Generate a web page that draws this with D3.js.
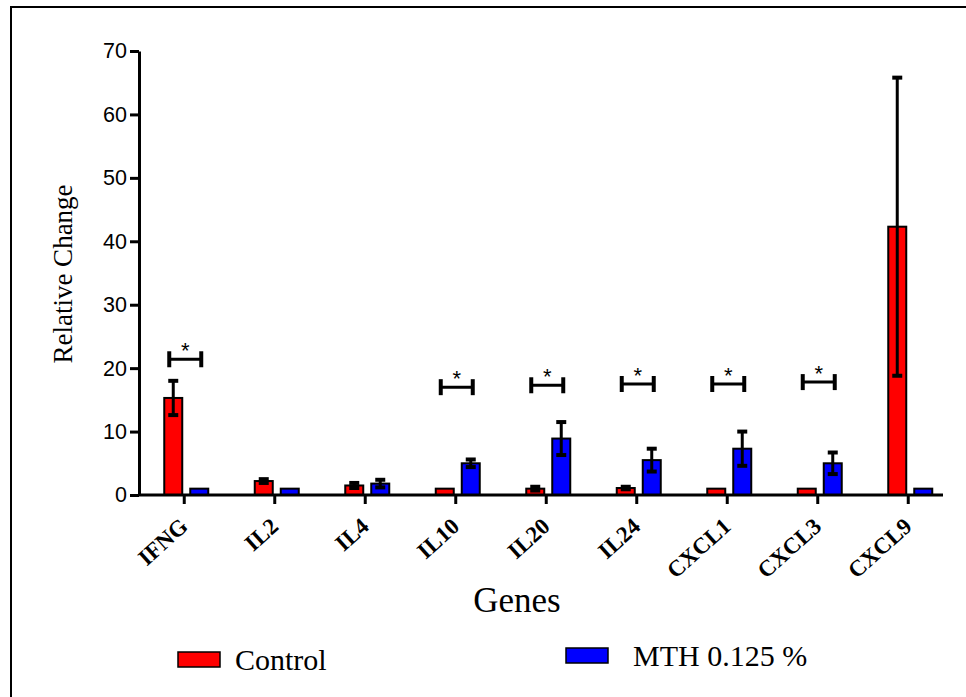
<!DOCTYPE html>
<html>
<head>
<meta charset="utf-8">
<script src="https://cdn.jsdelivr.net/npm/d3@7"></script>
<style>
  body { margin: 0; background: #fff; }
  svg { display: block; }
</style>
</head>
<body>
<svg id="chart"></svg>
<script>
// Data
const genes = ["IFNG", "IL2", "IL4", "IL10", "IL20", "IL24", "CXCL1", "CXCL3", "CXCL9"];
const controlMean = [15.3, 2.2, 1.5, 1.0, 1.0, 1.1, 1.0, 1.0, 42.3];
const controlErr  = [2.7, 0.3, 0.4, 0, 0.3, 0.2, 0, 0, 23.5];
const mthMean = [1.0, 1.0, 1.8, 5.0, 8.9, 5.5, 7.3, 5.0, 1.0];
const mthErr  = [0, 0, 0.6, 0.6, 2.6, 1.8, 2.7, 1.7, 0];
// significance brackets: gene and height of bracket
const sigGenes  = ["IFNG", "IL10", "IL20", "IL24", "CXCL1", "CXCL3"];
const sigLevels = [21.4, 17.0, 17.3, 17.5, 17.5, 17.8];
const yTicks = [0, 10, 20, 30, 40, 50, 60, 70];
const seriesNames = ["Control", "MTH 0.125 %"];
const seriesColors = ["#ff0000", "#0000ff"];

const W = 966, H = 697;
const svg = d3.select("#chart").attr("width", W).attr("height", H);
const serif = "'Liberation Serif', 'Times New Roman', serif";
const sans = "Arial, 'Liberation Sans', sans-serif";

// outer frame
svg.append("rect")
    .attr("x", 11).attr("y", 7)
    .attr("width", W + 10).attr("height", H + 10)
    .attr("fill", "none").attr("stroke", "#000").attr("stroke-width", 2);

const axisX = 139, axisEnd = 943;
const y = d3.scaleLinear().domain([0, 70]).range([495, 51]);
const x = d3.scaleBand().domain(genes).range([139, 953.5]).paddingInner(0).paddingOuter(0);
const barW = 18, gap = 4;

// bars
const series = [
    {mean: controlMean, err: controlErr, color: seriesColors[0], dx: -gap - barW + 2},
    {mean: mthMean, err: mthErr, color: seriesColors[1], dx: gap + 2}
];

series.forEach(function(s) {
    const g = svg.append("g");
    g.selectAll("rect")
        .data(genes)
        .enter().append("rect")
        .attr("x", (d) => x(d) + x.bandwidth() / 2 + s.dx)
        .attr("y", (d, i) => y(s.mean[i]))
        .attr("width", barW)
        .attr("height", (d, i) => y(0) - y(s.mean[i]))
        .attr("fill", s.color)
        .attr("stroke", "#000")
        .attr("stroke-width", 2);

    // error bars
    genes.forEach(function(d, i) {
        if (s.err[i] <= 0) return;
        const cx = x(d) + x.bandwidth() / 2 + s.dx + barW / 2;
        const hi = y(s.mean[i] + s.err[i]);
        const lo = y(s.mean[i] - s.err[i]);
        g.append("line").attr("x1", cx).attr("x2", cx).attr("y1", hi).attr("y2", lo)
            .attr("stroke", "#000").attr("stroke-width", 3);
        [hi, lo].forEach(function(v) {
            g.append("line").attr("x1", cx - 5).attr("x2", cx + 5).attr("y1", v).attr("y2", v)
                .attr("stroke", "#000").attr("stroke-width", 4);
        });
    });
});

// y axis
const yAxis = svg.append("g")
    .attr("transform", "translate(" + axisX + ",0)")
    .call(d3.axisLeft(y).tickValues(yTicks).tickSize(9).tickPadding(3).tickSizeOuter(0));
yAxis.select(".domain").attr("stroke-width", 3);
yAxis.selectAll(".tick line").attr("stroke-width", 3);
yAxis.selectAll("text")
    .style("font-family", sans)
    .style("font-size", "21.5px")
    .attr("fill", "#000");

// x axis
svg.append("line")
    .attr("x1", axisX).attr("x2", axisEnd).attr("y1", y(0)).attr("y2", y(0))
    .attr("stroke", "#000").attr("stroke-width", 3);
svg.selectAll(".xtick")
    .data(genes)
    .enter().append("line")
    .attr("class", "xtick")
    .attr("x1", (d) => x(d) + x.bandwidth() / 2)
    .attr("x2", (d) => x(d) + x.bandwidth() / 2)
    .attr("y1", y(0)).attr("y2", y(0) + 9)
    .attr("stroke", "#000").attr("stroke-width", 3);

svg.selectAll(".xlabel")
    .data(genes)
    .enter().append("text")
    .attr("class", "xlabel")
    .attr("transform", (d) => "translate(" + (x(d) + x.bandwidth() / 2 - 5) + "," + 517 + ") rotate(-42)")
    .attr("text-anchor", "end")
    .attr("dy", "0.66em")
    .style("font-family", serif)
    .style("font-weight", "bold")
    .style("font-size", "23px")
    .text((d) => d);

// significance brackets
sigGenes.forEach(function(gname, i) {
    const cx = x(gname) + x.bandwidth() / 2 + 1;
    const yy = y(sigLevels[i]);
    const half = 16;
    svg.append("line").attr("x1", cx - half).attr("x2", cx + half).attr("y1", yy).attr("y2", yy)
        .attr("stroke", "#000").attr("stroke-width", 3);
    [cx - half, cx + half].forEach(function(v) {
        svg.append("line").attr("x1", v).attr("x2", v).attr("y1", yy - 8).attr("y2", yy + 8)
            .attr("stroke", "#000").attr("stroke-width", 4);
    });
    svg.append("text")
        .attr("x", cx).attr("y", yy - 1)
        .attr("text-anchor", "middle")
        .style("font-family", sans)
        .style("font-size", "22px")
        .text("*");
});

// axis titles
svg.append("text")
    .attr("transform", "translate(72,274) rotate(-90)")
    .attr("text-anchor", "middle")
    .style("font-family", serif)
    .style("font-size", "27px")
    .text("Relative Change");

svg.append("text")
    .attr("x", 517).attr("y", 612)
    .attr("text-anchor", "middle")
    .style("font-family", serif)
    .style("font-size", "35px")
    .text("Genes");

// legend
const legendRect = [{x: 178, y: 652}, {x: 566, y: 648}];
const legendTextX = [235, 633];
seriesNames.forEach(function(name, i) {
    svg.append("rect")
        .attr("x", legendRect[i].x).attr("y", legendRect[i].y)
        .attr("width", 42).attr("height", 15)
        .attr("fill", seriesColors[i]).attr("stroke", "#000").attr("stroke-width", 1.5);
    svg.append("text")
        .attr("x", legendTextX[i]).attr("y", legendRect[i].y + 18)
        .style("font-family", serif)
        .style("font-size", "30px")
        .text(name);
});
</script>
</body>
</html>
